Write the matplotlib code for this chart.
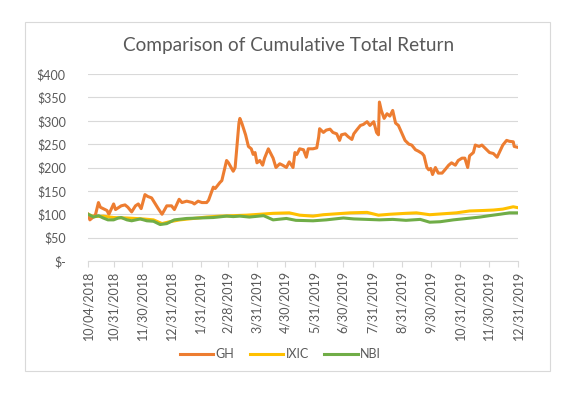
import matplotlib
matplotlib.use('Agg')
import matplotlib.pyplot as plt
import pandas as pd

# GH cumulative return
gh_dates = ['2018-10-04', '2018-10-06', '2018-10-10', '2018-10-12', '2018-10-15', '2018-10-17',
            '2018-10-19', '2018-10-24', '2018-10-26', '2018-10-31', '2018-11-02', '2018-11-08',
            '2018-11-12', '2018-11-15', '2018-11-19', '2018-11-23', '2018-11-26', '2018-11-29',
            '2018-12-03', '2018-12-06', '2018-12-10', '2018-12-13', '2018-12-17', '2018-12-21',
            '2018-12-26', '2018-12-31', '2019-01-03', '2019-01-08', '2019-01-11', '2019-01-16',
            '2019-01-22', '2019-01-24', '2019-01-28', '2019-02-01', '2019-02-06', '2019-02-08',
            '2019-02-13', '2019-02-15', '2019-02-20', '2019-02-22', '2019-02-27', '2019-03-01',
            '2019-03-06', '2019-03-08', '2019-03-12', '2019-03-13', '2019-03-15', '2019-03-19',
            '2019-03-22', '2019-03-25', '2019-03-27', '2019-03-29', '2019-03-31', '2019-04-03',
            '2019-04-06', '2019-04-08', '2019-04-12', '2019-04-14', '2019-04-17', '2019-04-20',
            '2019-04-24', '2019-04-27', '2019-05-01', '2019-05-04', '2019-05-08', '2019-05-10',
            '2019-05-12', '2019-05-15', '2019-05-19', '2019-05-22', '2019-05-24', '2019-05-29',
            '2019-06-02', '2019-06-04', '2019-06-05', '2019-06-09', '2019-06-12', '2019-06-16',
            '2019-06-19', '2019-06-23', '2019-06-26', '2019-06-28', '2019-07-02', '2019-07-05',
            '2019-07-09', '2019-07-11', '2019-07-14', '2019-07-18', '2019-07-21', '2019-07-25',
            '2019-07-28', '2019-08-01', '2019-08-04', '2019-08-06', '2019-08-07', '2019-08-09',
            '2019-08-12', '2019-08-15', '2019-08-18', '2019-08-21', '2019-08-24', '2019-08-27',
            '2019-08-31', '2019-09-03', '2019-09-07', '2019-09-10', '2019-09-14', '2019-09-17',
            '2019-09-21', '2019-09-23', '2019-09-26', '2019-09-28', '2019-09-30', '2019-10-02',
            '2019-10-05', '2019-10-08', '2019-10-12', '2019-10-15', '2019-10-19', '2019-10-22',
            '2019-10-26', '2019-10-29', '2019-11-02', '2019-11-05', '2019-11-08', '2019-11-10',
            '2019-11-14', '2019-11-16', '2019-11-20', '2019-11-23', '2019-11-27', '2019-12-01',
            '2019-12-05', '2019-12-09', '2019-12-12', '2019-12-15', '2019-12-19', '2019-12-22',
            '2019-12-26', '2019-12-27', '2019-12-31']
gh_values = [100, 88, 95, 100, 125, 115,
             113, 108, 100, 122, 110, 118,
             120, 115, 105, 118, 122, 112,
             142, 138, 135, 125, 112, 100,
             118, 118, 110, 132, 125, 128,
             125, 122, 128, 125, 125, 130,
             158, 155, 168, 172, 215, 210,
             192, 200, 295, 305, 295, 270,
             245, 240, 228, 232, 210, 215,
             205, 220, 240, 232, 220, 200,
             208, 205, 200, 212, 200, 232,
             228, 240, 238, 222, 240, 240,
             242, 265, 283, 275, 280, 282,
             275, 272, 258, 270, 272, 266,
             260, 272, 280, 290, 292, 298,
             290, 298, 275, 270, 340, 322,
             305, 315, 310, 322, 295, 290,
             272, 258, 250, 248, 238, 235,
             230, 225, 200, 195, 198, 185,
             200, 188, 188, 195, 205, 210,
             205, 215, 220, 220, 200, 225,
             232, 248, 245, 248, 240, 232,
             230, 222, 235, 248, 258, 256,
             255, 245, 243]

# IXIC (Nasdaq Composite)
ixic_dates = ['2018-10-04', '2018-10-10', '2018-10-20', '2018-10-31', '2018-11-14', '2018-12-01',
              '2018-12-12', '2018-12-21', '2018-12-29', '2019-01-09', '2019-01-23', '2019-02-06',
              '2019-02-20', '2019-03-06', '2019-03-20', '2019-04-03', '2019-04-17', '2019-05-04',
              '2019-05-15', '2019-05-29', '2019-06-09', '2019-06-23', '2019-07-07', '2019-07-25',
              '2019-08-06', '2019-08-18', '2019-09-04', '2019-09-15', '2019-09-29', '2019-10-13',
              '2019-10-27', '2019-11-10', '2019-11-24', '2019-12-05', '2019-12-15', '2019-12-26',
              '2019-12-31']
ixic_values = [100, 95, 96, 93, 92, 90,
               88, 80, 84, 88, 91, 94,
               96, 97, 98, 100, 102, 103,
               98, 96, 99, 101, 103, 104,
               98, 100, 102, 103, 99, 101,
               103, 107, 108, 109, 111, 116,
               114]

# NBI (Nasdaq Biotechnology)
nbi_dates = ['2018-10-04', '2018-10-10', '2018-10-15', '2018-10-20', '2018-10-25', '2018-10-31',
             '2018-11-05', '2018-11-08', '2018-11-14', '2018-11-19', '2018-11-28', '2018-12-05',
             '2018-12-12', '2018-12-19', '2018-12-26', '2019-01-03', '2019-01-16', '2019-01-30',
             '2019-02-13', '2019-02-27', '2019-03-06', '2019-03-13', '2019-03-23', '2019-04-07',
             '2019-04-17', '2019-05-01', '2019-05-11', '2019-05-29', '2019-06-12', '2019-06-30',
             '2019-07-11', '2019-07-25', '2019-08-07', '2019-08-21', '2019-09-04', '2019-09-19',
             '2019-09-29', '2019-10-10', '2019-10-24', '2019-11-07', '2019-11-21', '2019-12-01',
             '2019-12-12', '2019-12-22', '2019-12-31']
nbi_values = [100, 94, 97, 92, 88, 88,
              92, 93, 88, 86, 90, 86,
              85, 78, 80, 88, 91, 92,
              93, 96, 95, 96, 94, 97,
              88, 91, 87, 86, 88, 92,
              90, 89, 88, 89, 87, 89,
              83, 84, 88, 91, 94, 97,
              100, 103, 103]

tick_dates = ['2018-10-04', '2018-10-31', '2018-11-30', '2018-12-31', '2019-01-31', '2019-02-28',
              '2019-03-31', '2019-04-30', '2019-05-31', '2019-06-30', '2019-07-31', '2019-08-31',
              '2019-09-30', '2019-10-31', '2019-11-30', '2019-12-31']
tick_labels = ['10/04/2018', '10/31/2018', '11/30/2018', '12/31/2018', '1/31/2019', '2/28/2019',
               '3/31/2019', '4/30/2019', '5/31/2019', '6/30/2019', '7/31/2019', '8/31/2019',
               '9/30/2019', '10/31/2019', '11/30/2019', '12/31/2019']
y_ticks = [0, 50, 100, 150, 200, 250, 300, 350, 400]
y_labels = ['$-', '$50', '$100', '$150', '$200', '$250', '$300', '$350', '$400']

plt.rcParams['font.family'] = ['Lato', 'DejaVu Sans']
txt = '#595959'
grid = '#d9d9d9'

fig = plt.figure(figsize=(5.78, 3.97), dpi=100)
# outer chart border like Excel
fig.patches.append(plt.Rectangle((25 / 578, 1 - 371 / 397), 525 / 578, 349 / 397,
                                 transform=fig.transFigure, fill=False,
                                 edgecolor=grid, linewidth=0.8))
ax = fig.add_axes([88 / 578, 1 - 261 / 397, 430 / 578, 187 / 397])

ax.plot(pd.to_datetime(gh_dates), gh_values, color='#ED7D31', lw=2.2, label='GH')
ax.plot(pd.to_datetime(ixic_dates), ixic_values, color='#FFC000', lw=2.2, label='IXIC')
ax.plot(pd.to_datetime(nbi_dates), nbi_values, color='#70AD47', lw=2.2, label='NBI')

ax.set_ylim(0, 400)
ax.set_xlim(pd.Timestamp('2018-10-04'), pd.Timestamp('2019-12-31'))
ax.set_yticks(y_ticks)
ax.set_yticklabels(y_labels)
ax.set_xticks(pd.to_datetime(tick_dates))
ax.set_xticklabels(tick_labels, rotation=90)
ax.grid(axis='y', color=grid, lw=0.8)
ax.set_axisbelow(True)
for s in ['top', 'right', 'left']:
    ax.spines[s].set_visible(False)
ax.spines['bottom'].set_color(grid)
ax.tick_params(axis='y', length=0, pad=16, labelsize=9, labelcolor=txt)
ax.tick_params(axis='x', length=4, color=grid, pad=3, labelsize=9, labelcolor=txt)
for lbl in ax.get_yticklabels():
    lbl.set_horizontalalignment('right')

fig.text(0.5, 1 - 45 / 397, 'Comparison of Cumulative Total Return', ha='center', va='center',
         fontsize=13.7, color=txt)
fig.legend(loc='center', bbox_to_anchor=(0.485, 1 - 354 / 397), ncol=3, frameon=False,
           fontsize=9, labelcolor=txt, handlelength=2.7, handletextpad=0.2, columnspacing=1.2)

fig.savefig('out.png', dpi=100)
